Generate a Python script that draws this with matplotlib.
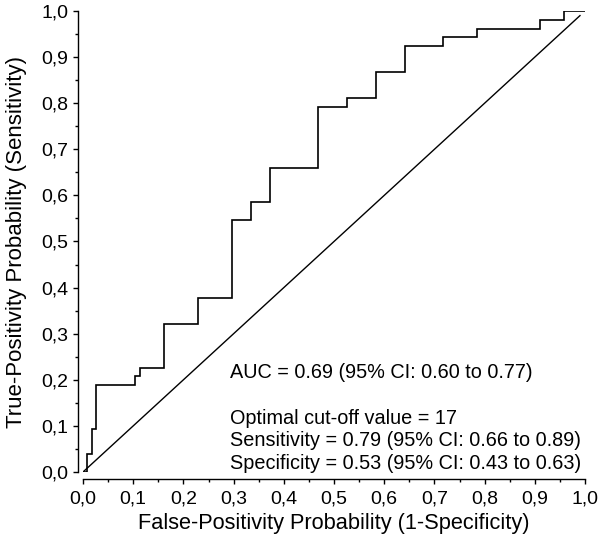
import matplotlib
matplotlib.use('Agg')
import matplotlib.pyplot as plt
from matplotlib.ticker import MultipleLocator, FuncFormatter

# ROC step curve corners
fpr = [0.0, 0.007, 0.007, 0.017, 0.017, 0.026, 0.026, 0.103, 0.103, 0.113, 0.113,
       0.162, 0.162, 0.229, 0.229, 0.296, 0.296, 0.335, 0.335, 0.373, 0.373,
       0.469, 0.469, 0.526, 0.526, 0.583, 0.583, 0.641, 0.641, 0.718, 0.718,
       0.785, 0.785, 0.911, 0.911, 0.959, 0.959, 1.0]
tpr = [0.0, 0.0, 0.038, 0.038, 0.094, 0.094, 0.189, 0.189, 0.208, 0.208, 0.226,
       0.226, 0.321, 0.321, 0.377, 0.377, 0.547, 0.547, 0.585, 0.585, 0.660,
       0.660, 0.792, 0.792, 0.811, 0.811, 0.868, 0.868, 0.925, 0.925, 0.943,
       0.943, 0.962, 0.962, 0.981, 0.981, 1.0, 1.0]
diag = [0.0, 0.99]

info_auc = 'AUC = 0.69 (95% CI: 0.60 to 0.77)'
info_cut = ['Optimal cut-off value = 17',
            'Sensitivity = 0.79 (95% CI: 0.66 to 0.89)',
            'Specificity = 0.53 (95% CI: 0.43 to 0.63)']

plt.rcParams['font.family'] = ['Liberation Sans', 'DejaVu Sans']

fig = plt.figure(figsize=(6.0, 5.41), dpi=100)
ax = fig.add_axes([83 / 600, 69 / 541, 502 / 600, 461 / 541])

ax.plot(fpr, tpr, color='black', lw=1.2, solid_joinstyle='miter')
ax.plot(diag, diag, color='black', lw=1.0)

ax.set_xlim(0, 1)
ax.set_ylim(0, 1)

for side in ['top', 'right']:
    ax.spines[side].set_visible(False)
ax.spines['left'].set_position(('outward', 3.6))
ax.spines['bottom'].set_position(('outward', 5))
ax.spines['left'].set_linewidth(1.0)
ax.spines['bottom'].set_linewidth(1.0)

ax.xaxis.set_major_locator(MultipleLocator(0.1))
ax.xaxis.set_minor_locator(MultipleLocator(0.05))
ax.yaxis.set_major_locator(MultipleLocator(0.1))
ax.yaxis.set_minor_locator(MultipleLocator(0.05))
comma = FuncFormatter(lambda v, p: f'{v:.1f}'.replace('.', ','))
ax.xaxis.set_major_formatter(comma)
ax.yaxis.set_major_formatter(comma)
ax.tick_params(which='major', length=3.5, width=1.0, labelsize=14)
ax.tick_params(axis='x', which='major', pad=5)
ax.tick_params(axis='y', which='major', pad=3.5)
ax.tick_params(which='minor', length=2, width=1.0)

ax.set_xlabel('False-Positivity Probability (1-Specificity)', fontsize=15.7, labelpad=4)
ax.set_ylabel('True-Positivity Probability (Sensitivity)', fontsize=16, labelpad=10)

ax.text(0.293, 0.215, info_auc, fontsize=14.3, va='center', transform=ax.transAxes)
for i, line in enumerate(info_cut):
    ax.text(0.293, 0.117 - i * 0.049, line, fontsize=14.3, va='center', transform=ax.transAxes)

fig.savefig('out.png', dpi=100)
